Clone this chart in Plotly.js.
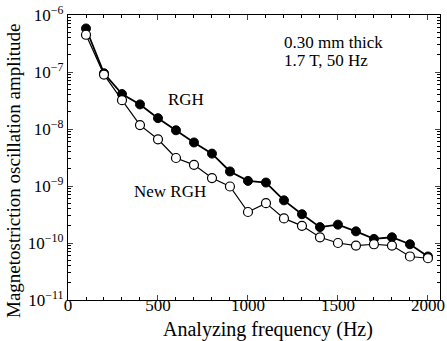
<!DOCTYPE html>
<html><head><meta charset="utf-8">
<script src="https://cdn.plot.ly/plotly-3.0.1.min.js"></script>
<style>html,body{margin:0;padding:0;background:#fff}</style>
</head><body>
<div id="chart" style="width:447px;height:341px"></div>
<script>
const freq = [100,200,300,400,500,600,700,800,900,1000,1100,1200,1300,1400,1500,1600,1700,1800,1900,2000];
const rgh = [5.8e-7,9.5e-8,4.1e-8,2.7e-8,1.55e-8,9.5e-9,5.8e-9,3.7e-9,1.8e-9,1.23e-9,1.15e-9,5.6e-10,3.2e-10,1.9e-10,2.1e-10,1.6e-10,1.18e-10,1.26e-10,9.5e-11,5.8e-11];
const newRgh = [4.5e-7,9e-8,3.2e-8,1.17e-8,6.6e-9,3.1e-9,2.35e-9,1.38e-9,9.8e-10,3.5e-10,5e-10,2.7e-10,2e-10,1.26e-10,1e-10,9e-11,9.5e-11,9e-11,5.8e-11,5.4e-11];
const yTickVals = [1e-11,1e-10,1e-9,1e-8,1e-7,1e-6];
const yTickText = ['10<sup>−11</sup>','10<sup>−10</sup>','10<sup>−9</sup>','10<sup>−8</sup>','10<sup>−7</sup>','10<sup>−6</sup>'];
const xTickVals = [0,500,1000,1500,2000];

const fam = '"Liberation Serif", "DejaVu Serif", serif';
const f = s => ({family:fam, size:s, color:'#000'});
const traces = [
  {x:freq, y:rgh, mode:'lines+markers', name:'RGH',
   line:{color:'#000', width:1.8},
   marker:{symbol:'circle', size:9, color:'#000', line:{color:'#000', width:1}}},
  {x:freq, y:newRgh, mode:'lines+markers', name:'New RGH',
   line:{color:'#000', width:1.2},
   marker:{symbol:'circle', size:9, color:'#fff', line:{color:'#000', width:1.2}}}
];
const layout = {
  width:447, height:341,
  margin:{l:68, r:7, t:15, b:41},
  paper_bgcolor:'#fff', plot_bgcolor:'#fff',
  showlegend:false,
  font:f(17),
  xaxis:{range:[0,2067], tickvals:xTickVals, ticks:'inside', ticklen:5, mirror:'ticks',
    showline:true, linecolor:'#000', linewidth:1.2, showgrid:false, zeroline:false,
    automargin:false, tickfont:f(17), ticklabelstandoff:-11,
    minor:{dtick:100, tick0:0, ticks:'inside', ticklen:3, tickcolor:'#000', showgrid:false}},
  yaxis:{type:'log', range:[-11,-6], tickvals:yTickVals, ticktext:yTickText,
    ticks:'inside', ticklen:5, mirror:'ticks', showline:true, linecolor:'#000', linewidth:1.2,
    showgrid:false, zeroline:false, automargin:false,
    tickfont:f(17),
    minor:{ticks:'inside', ticklen:3, tickcolor:'#000', showgrid:false, dtick:'D1'}},
  annotations:[
    {xref:'paper', yref:'paper', x:0.538, y:-0.102, xanchor:'center', yanchor:'middle',
     text:'Analyzing frequency (Hz)', showarrow:false, font:f(20)},
    {xref:'paper', yref:'paper', x:-0.145, y:0.453, xanchor:'center', yanchor:'middle', textangle:-90,
     text:'Magnetostriction oscillation amplitude', showarrow:false, font:f(19)},
    {xref:'paper', yref:'paper', x:0.317, y:0.705, xanchor:'center', yanchor:'middle',
     text:'RGH', showarrow:false, font:f(17)},
    {xref:'paper', yref:'paper', x:0.376, y:0.382, xanchor:'right', yanchor:'middle',
     text:'New RGH', showarrow:false, font:f(17)},
    {xref:'paper', yref:'paper', x:0.575, y:0.905, xanchor:'left', yanchor:'middle',
     text:'0.30 mm thick', showarrow:false, font:f(17)},
    {xref:'paper', yref:'paper', x:0.575, y:0.842, xanchor:'left', yanchor:'middle',
     text:'1.7 T, 50 Hz', showarrow:false, font:f(17)}
  ]
};
Plotly.newPlot('chart', traces, layout, {displayModeBar:false, staticPlot:true});
</script>
</body></html>
